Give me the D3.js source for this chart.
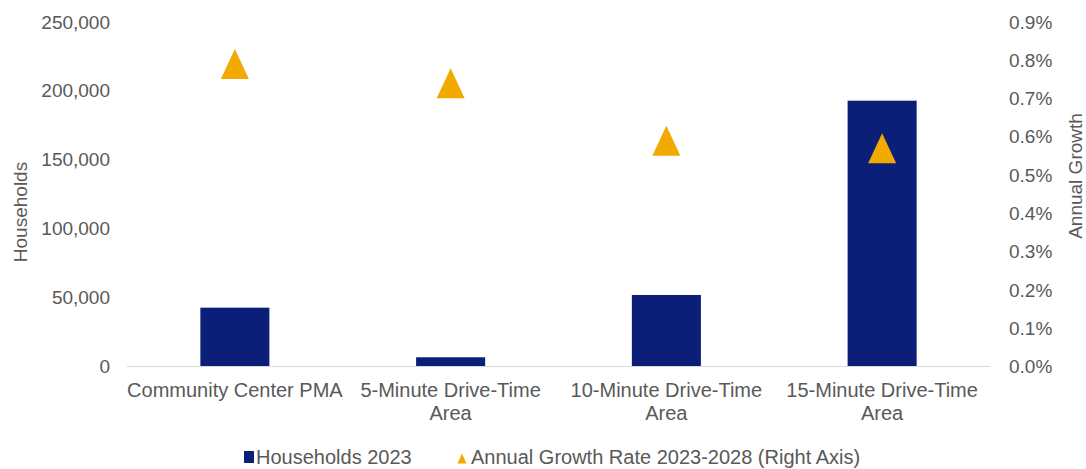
<!DOCTYPE html>
<html>
<head>
<meta charset="utf-8">
<script src="https://cdn.jsdelivr.net/npm/d3@7"></script>
<style>
  html, body { margin: 0; padding: 0; background: #ffffff; }
  svg { display: block; font-family: "Liberation Sans", Arial, sans-serif; }
</style>
</head>
<body>
<svg id="chart" width="1086" height="469"></svg>
<script>
// Households by trade area (left axis) and annual growth rate (right axis)
const categories = [
  ["Community Center PMA"],
  ["5-Minute Drive-Time", "Area"],
  ["10-Minute Drive-Time", "Area"],
  ["15-Minute Drive-Time", "Area"]
];
const households2023 = [42700, 6700, 51900, 192900];
const growthRate = [0.0079, 0.0074, 0.0059, 0.0057];
const leftTicks = [0, 50000, 100000, 150000, 200000, 250000];
const rightTicks = [0, 0.001, 0.002, 0.003, 0.004, 0.005, 0.006, 0.007, 0.008, 0.009];
const seriesNames = ["Households 2023", "Annual Growth Rate 2023-2028 (Right Axis)"];

const BAR = "#0b1f78";
const TRI = "#f2a900";
const TEXT = "#595959";
const FS = 19;     // tick and axis title size
const FS_CAT = 20; // category and legend size

const svg = d3.select("#chart");
const plot = { left: 127, right: 990, top: 22, bottom: 366.5 };

const keys = categories.map((c, i) => i);
const x = d3.scaleBand().domain(keys).range([plot.left, plot.right])
  .paddingInner(0.68).paddingOuter(0.34).align(0.5);
const yL = d3.scaleLinear().domain([0, 250000]).range([plot.bottom, plot.top]);
const yR = d3.scaleLinear().domain([0, 0.009]).range([plot.bottom, plot.top]);

// left axis
const fmt = d3.format(",");
const axL = svg.append("g").attr("transform", `translate(${plot.left},0)`)
  .call(d3.axisLeft(yL).tickValues(leftTicks).tickFormat(fmt).tickSize(0).tickPadding(17));
axL.select(".domain").remove();
axL.selectAll("text").attr("fill", TEXT).style("font-size", FS + "px")
  .style("font-family", "Liberation Sans, Arial, sans-serif");

// right axis
const axR = svg.append("g").attr("transform", `translate(${plot.right},0)`)
  .call(d3.axisRight(yR).tickValues(rightTicks).tickFormat(d3.format(".1%")).tickSize(0).tickPadding(19));
axR.select(".domain").remove();
axR.selectAll("text").attr("fill", TEXT).style("font-size", FS + "px")
  .style("font-family", "Liberation Sans, Arial, sans-serif");

// axis titles
svg.append("text").attr("transform", "translate(27,212) rotate(-90)")
  .attr("text-anchor", "middle").attr("fill", TEXT).style("font-size", FS + "px")
  .text("Households");
svg.append("text").attr("transform", "translate(1082,176) rotate(-90)")
  .attr("text-anchor", "middle").attr("fill", TEXT).style("font-size", FS + "px")
  .text("Annual Growth");

// bars
svg.append("g").selectAll("rect").data(households2023).join("rect")
  .attr("x", (d, i) => x(i)).attr("width", x.bandwidth())
  .attr("y", d => yL(d)).attr("height", d => yL(0) - yL(d))
  .attr("fill", BAR);

// category axis line
svg.append("line").attr("x1", plot.left).attr("x2", plot.right)
  .attr("y1", plot.bottom).attr("y2", plot.bottom)
  .attr("stroke", "#d9d9d9").attr("stroke-width", 1.2);

// category labels
const cat = svg.append("g").selectAll("text").data(categories).join("text")
  .attr("x", (d, i) => x(i) + x.bandwidth() / 2)
  .attr("y", 397).attr("text-anchor", "middle").attr("fill", TEXT)
  .style("font-size", FS_CAT + "px");
cat.selectAll("tspan").data(d => d).join("tspan")
  .attr("x", function () { return d3.select(this.parentNode).attr("x"); })
  .attr("dy", (d, j) => j === 0 ? 0 : 23)
  .text(d => d);

// triangle path centred on a point
function tri(cx, cy, w, h) {
  return `M${cx},${cy - h / 2}L${cx + w / 2},${cy + h / 2}L${cx - w / 2},${cy + h / 2}Z`;
}

// growth markers
const cx = i => x(i) + x.bandwidth() / 2;
svg.append("g").selectAll("path").data(growthRate).join("path")
  .attr("d", (d, i) => tri(cx(i), yR(d), 28, 30))
  .attr("fill", TRI);

// legend
const lg = svg.append("g");
lg.append("rect").attr("x", 244).attr("y", 451).attr("width", 10).attr("height", 12).attr("fill", BAR);
lg.append("text").attr("x", 256).attr("y", 464).attr("fill", TEXT).style("font-size", FS_CAT + "px").text(seriesNames[0]);
lg.append("path").attr("d", tri(462, 458.5, 9, 10)).attr("fill", TRI);
lg.append("text").attr("x", 471).attr("y", 464).attr("fill", TEXT).style("font-size", FS_CAT + "px").text(seriesNames[1]);
</script>
</body>
</html>
